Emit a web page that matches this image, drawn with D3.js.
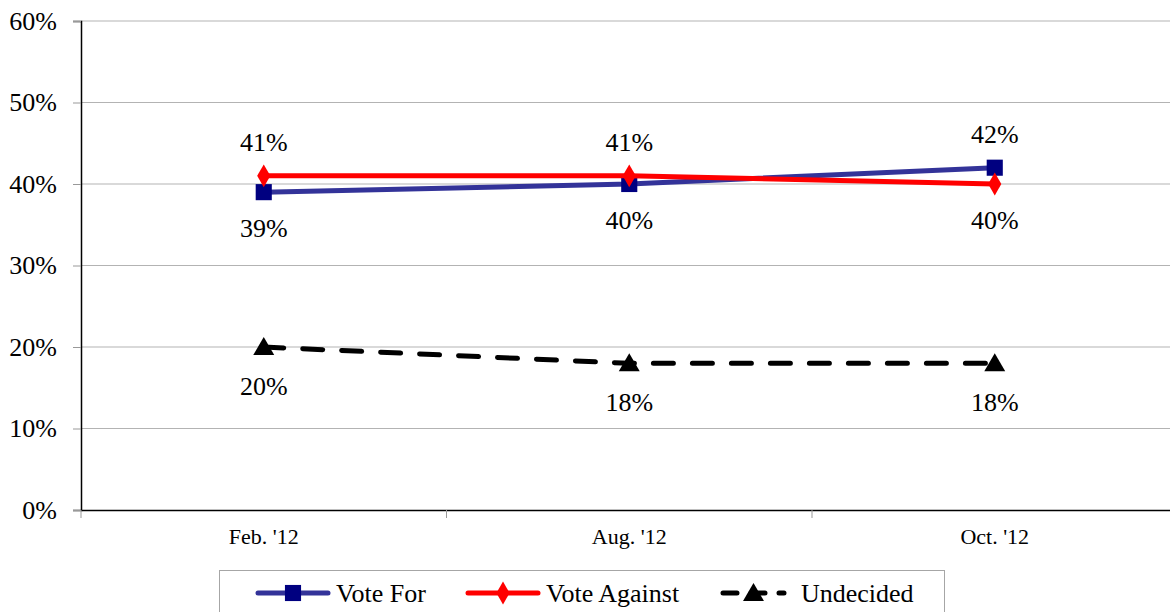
<!DOCTYPE html>
<html>
<head>
<meta charset="utf-8">
<script src="https://cdn.jsdelivr.net/npm/d3@7"></script>
<style>
  body { margin: 0; background: #fff; }
  svg { display: block; }
  text { font-family: "Liberation Serif", "Times New Roman", serif; }
</style>
</head>
<body>
<svg id="chart" width="1170" height="612"></svg>
<script>
const categories = ["Feb. '12", "Aug. '12", "Oct. '12"];
const voteFor = [39, 40, 42];
const voteAgainst = [41, 41, 40];
const undecided = [20, 18, 18];
const yTicks = [0, 10, 20, 30, 40, 50, 60];
// label placement: -1 above point, 1 below
const forPos = [1, 1, -1];
const againstPos = [-1, -1, 1];
const undecidedPos = [1, 1, 1];

const serif = "Liberation Serif";
const svg = d3.select("#chart").attr("font-family", serif);
const plotLeft = 81, plotRight = 1177.5, plotTop = 21, plotBottom = 510;

const x = d3.scaleBand().domain(categories).range([plotLeft, plotRight]);
const y = d3.scaleLinear().domain([0, 60]).range([plotBottom, plotTop]);
const cx = (c) => x(c) + x.bandwidth() / 2;

// gridlines
svg.append("g")
  .selectAll("line")
  .data(yTicks.filter((t) => t > 0))
  .enter()
  .append("line")
  .attr("x1", plotLeft).attr("x2", 1170)
  .attr("y1", (d) => y(d)).attr("y2", (d) => y(d))
  .attr("stroke", "#b3b3b3").attr("stroke-width", 1);

// y axis
const yAxis = svg.append("g")
  .attr("transform", `translate(${plotLeft},0)`)
  .call(d3.axisLeft(y).tickValues(yTicks).tickSize(8).tickFormat((d) => d + "%"))
  .attr("font-family", serif);
yAxis.select(".domain").attr("stroke", "#000").attr("stroke-width", 1.5);
yAxis.selectAll(".tick line").attr("stroke", "#999");
yAxis.selectAll(".tick text")
  .attr("x", -24).attr("font-size", 26).attr("fill", "#000")
  .attr("font-family", serif);

// x axis
const xAxis = svg.append("g")
  .attr("transform", `translate(0,${plotBottom})`)
  .call(d3.axisBottom(x).tickSize(0).tickFormat((d) => d))
  .attr("font-family", serif);
xAxis.select(".domain").attr("stroke", "#000").attr("stroke-width", 1.5);
xAxis.selectAll(".tick text")
  .attr("y", 18).attr("font-size", 22).attr("fill", "#000")
  .attr("font-family", serif);
// tick marks between categories
svg.append("g")
  .selectAll("line")
  .data(categories)
  .enter()
  .append("line")
  .attr("x1", (d) => x(d)).attr("x2", (d) => x(d))
  .attr("y1", plotBottom).attr("y2", plotBottom + 8)
  .attr("stroke", "#999");

const series = [
  { name: "Vote For", values: voteFor, pos: forPos, color: "#333399", marker: "#000080", shape: d3.symbolSquare, size: 260, dash: null },
  { name: "Vote Against", values: voteAgainst, pos: againstPos, color: "#ff0000", marker: "#ff0000", shape: d3.symbolDiamond, size: 150, dash: null },
  { name: "Undecided", values: undecided, pos: undecidedPos, color: "#000000", marker: "#000000", shape: d3.symbolTriangle, size: 190, dash: "20,19" },
];

const line = d3.line().x((d) => cx(d.c)).y((d) => y(d.v));

series.forEach((s) => {
  const pts = categories.map((c, i) => ({ c: c, v: s.values[i], p: s.pos[i] }));
  svg.append("path")
    .datum(pts)
    .attr("d", line)
    .attr("fill", "none")
    .attr("stroke", s.color)
    .attr("stroke-width", 5)
    .attr("stroke-linecap", s.dash ? "round" : "butt")
    .attr("stroke-dasharray", s.dash);
  svg.append("g")
    .selectAll("path")
    .data(pts)
    .enter()
    .append("path")
    .attr("d", d3.symbol().type(s.shape).size(s.size))
    .attr("transform", (d) => `translate(${cx(d.c)},${y(d.v) + (s.shape === d3.symbolTriangle ? 2 : 0)})`)
    .attr("fill", s.marker);
  s.pts = pts;
});

// data labels
series.forEach((s) => {
  svg.append("g")
    .selectAll("text")
    .data(s.pts)
    .enter()
    .append("text")
    .attr("x", (d) => cx(d.c))
    .attr("y", (d) => y(d.v) + (d.p < 0 ? -33 : (s.shape === d3.symbolTriangle ? 39 : 36)))
    .attr("text-anchor", "middle")
    .attr("dominant-baseline", "central")
    .attr("font-family", serif)
    .attr("font-size", 26)
    .text((d) => d.v + "%");
});

// legend
const legend = svg.append("g");
legend.append("rect")
  .attr("x", 219.5).attr("y", 570.5)
  .attr("width", 725).attr("height", 60)
  .attr("fill", "#fff").attr("stroke", "#a6a6a6");
const legendX = [258, 468, 723];
const legendW = [70, 70, 61];
series.forEach((s, i) => {
  const g = legend.append("g").attr("transform", `translate(${legendX[i]},593)`);
  g.append("line")
    .attr("x1", 0).attr("x2", legendW[i])
    .attr("stroke", s.color).attr("stroke-width", 5)
    .attr("stroke-linecap", "round")
    .attr("stroke-dasharray", s.dash ? "14,14" : null);
  g.append("path")
    .attr("d", d3.symbol().type(s.shape).size(s.size))
    .attr("transform", `translate(${legendW[i] / 2},${s.shape === d3.symbolTriangle ? 2 : 0})`)
    .attr("fill", s.marker);
  g.append("text")
    .attr("x", legendW[i] + (i === 2 ? 17 : 8))
    .attr("dominant-baseline", "central")
    .attr("font-family", serif)
    .attr("font-size", 26)
    .text(s.name);
});
</script>
</body>
</html>
